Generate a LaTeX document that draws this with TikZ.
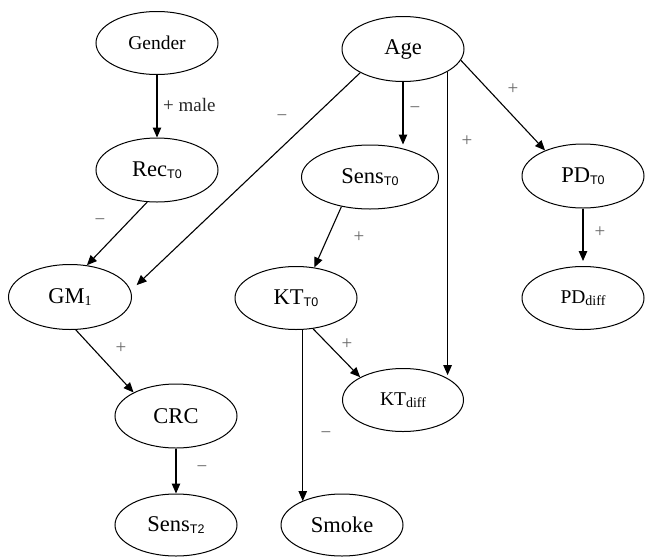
\documentclass[tikz,border=0pt]{standalone}
\usepackage{fontspec}
\setmainfont{Liberation Serif}
\newfontfamily\subsans{Liberation Sans}
\usetikzlibrary{shapes.geometric,arrows.meta}

% subscripts: sans for time points, serif for the others
\newcommand{\tsub}[1]{\raisebox{-2pt}{\fontsize{12.5}{12.5}\selectfont\subsans #1}}
\newcommand{\rsub}[1]{\raisebox{-2pt}{\fontsize{14}{14}\selectfont #1}}

\tikzset{
  var/.style={ellipse, draw, line width=1pt, inner sep=0pt,
              minimum width=122pt, minimum height=64pt,
              font=\fontsize{22.5}{22.5}\selectfont},
  smallvar/.style={var, font=\fontsize{19.5}{19.5}\selectfont},
  arr/.style={line width=1.1pt, -{Triangle[length=10pt,width=8.5pt]}},
  sign/.style={text=black!60, font=\fontsize{19}{19}\selectfont, inner sep=0pt},
}

\begin{document}
\begin{tikzpicture}[x=1pt, y=-1pt]
\useasboundingbox (0,0) rectangle (645,557);

% variables
\node[smallvar, minimum height=63pt] (Gender) at (157,43) {Gender};
\node[var] (Rec) at (157,170) {Rec\tsub{T0}};
\node[var, minimum height=65pt] (Age) at (403,49) {Age};
\node[var, minimum width=137pt] (Sens) at (370,177) {Sens\tsub{T0}};
\node[var] (PD) at (583,176) {PD\tsub{T0}};
\node[var, minimum width=123pt, minimum height=65pt] (GM) at (70,297) {GM\rsub{1}};
\node[var, minimum height=63pt] (KT) at (296,298) {KT\tsub{T0}};
\node[smallvar, minimum width=121pt, minimum height=63pt] (KTd) at (403,400) {KT\rsub{diff}};
\node[smallvar, minimum height=63pt] (PDd) at (583,298) {PD\rsub{diff}};
\node[var] (CRC) at (176,416) {CRC};
\node[var, minimum height=62pt] (ST) at (176,525) {Sens\tsub{T2}};
\node[var, minimum height=62pt] (Smoke) at (342,525) {Smoke};

% effects
\draw[arr] (Gender) -- (Rec);
\draw[arr] (Rec.253) -- (GM.62);
\draw[arr, shorten >=8pt] (Age.209) -- (GM.6);
\draw[arr] (Age.south) -- (Age.south |- Sens.north);
\draw[arr] (Age.-27) -- (Age.-27 |- KTd.33);
\draw[arr] (Age.-11) -- (PD.146);
\draw[arr] (Sens.226) -- (KT.59);
\draw[arr, shorten >=5pt] (PD) -- (PDd);
\draw[arr] (GM.-80) -- (CRC.151);
\draw[arr] (CRC) -- (ST);
\draw[arr] (KT.-78) -- (KT.-78 |- Smoke.149);
\draw[arr] (KT.-61) -- (KTd.152);

% signs of the effects
\node[sign, text=black!85, anchor=west] (lmale) at (163,105) {+ male};
\node[sign] (lrg) at (100,222) {−};
\node[sign] (lag) at (282,118) {−};
\node[sign] (las) at (415,110) {−};
\node[sign] (lak) at (467,141) {+};
\node[sign] (lap) at (513,89) {+};
\node[sign] (lsk) at (359,237) {+};
\node[sign] (lpp) at (600,232) {+};
\node[sign] (lgc) at (121,348) {+};
\node[sign] (lcs) at (202,469) {−};
\node[sign] (lks) at (326,435) {−};
\node[sign] (lkk) at (347,344) {+};
\end{tikzpicture}
\end{document}
